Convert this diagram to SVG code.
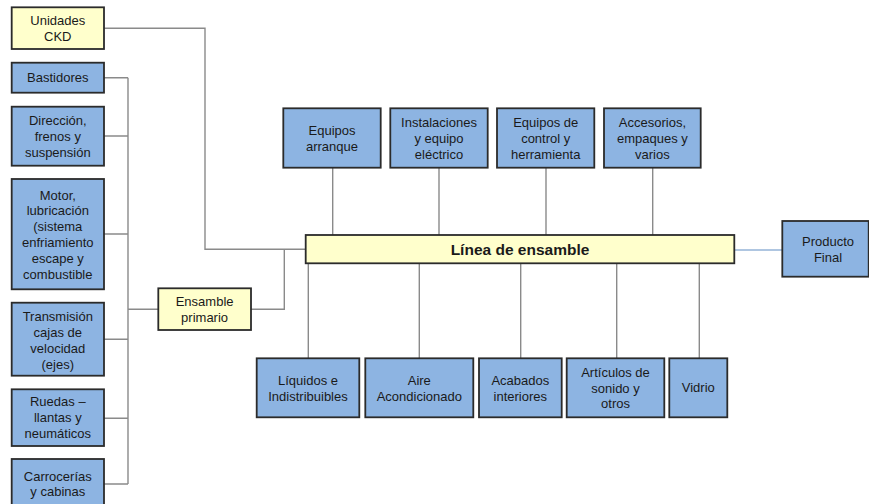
<svg xmlns="http://www.w3.org/2000/svg" width="869" height="504" viewBox="0 0 869 504">
<style>
.b{fill:#8DB4E2;stroke:#2b2b2b;stroke-width:1.8}
.y{fill:#FFFFCC;stroke:#2b2b2b;stroke-width:1.8}
text{font-family:"Liberation Sans",Arial,sans-serif;font-size:13px;fill:#1a1a1a;text-anchor:middle}
.t{font-size:15.5px;font-weight:bold}
.c{fill:none;stroke:#8a8a8a;stroke-width:1.4}
.cb{fill:none;stroke:#95B3D7;stroke-width:1.4}
</style>
<rect width="869" height="504" fill="#ffffff"/>
<g id="connectors">
<path class="c" d="M104,28.3H205V249.3H305.7"/>
<path class="c" d="M251,309.3H284.3V249.3"/>
<path class="c" d="M128,77.7V484M104,77.7H128M104,136H128M104,234H128M104,339.3H128M104,418.3H128M104,484H128M128,309.3H158.3"/>
<path class="c" d="M332.7,167.7V235M439,167.7V235M546,167.7V235M652.7,167.7V235"/>
<path class="c" d="M308.3,263.3V358.3M419.3,263.3V358.3M520.7,263.3V358.3M616.7,263.3V358.3M699.3,263.3V358.3"/>
<path class="cb" d="M734.3,250H782.3"/>
</g>
<g id="ckd"><rect class="y" x="11.7" y="7.3" width="92.3" height="41.7"/><text x="57.8" y="24.7">Unidades</text><text x="57.8" y="40.7">CKD</text></g>
<g id="bastidores"><rect class="b" x="11.7" y="62.7" width="92.3" height="30"/><text x="57.8" y="82.2">Bastidores</text></g>
<g id="direccion"><rect class="b" x="11.7" y="106.7" width="92.3" height="59"/><text x="57.8" y="124.5">Dirección,</text><text x="57.8" y="140.5">frenos y</text><text x="57.8" y="156.5">suspensión</text></g>
<g id="motor"><rect class="b" x="11.7" y="179" width="92.3" height="110.3"/><text x="57.8" y="199.5">Motor,</text><text x="57.8" y="215.3">lubricación</text><text x="57.8" y="231.1">(sistema</text><text x="57.8" y="246.9">enfriamiento</text><text x="57.8" y="262.7">escape y</text><text x="57.8" y="278.5">combustible</text></g>
<g id="transmision"><rect class="b" x="11.7" y="302.7" width="92.3" height="73"/><text x="57.8" y="320.5">Transmisión</text><text x="57.8" y="336.5">cajas de</text><text x="57.8" y="352.5">velocidad</text><text x="57.8" y="368.5">(ejes)</text></g>
<g id="ruedas"><rect class="b" x="11.7" y="389.3" width="92.3" height="56.7"/><text x="57.8" y="406.2">Ruedas –</text><text x="57.8" y="422.2">llantas y</text><text x="57.8" y="438">neumáticos</text></g>
<g id="carrocerias"><rect class="b" x="11.7" y="459" width="92.3" height="52"/><text x="57.8" y="480.5">Carrocerías</text><text x="57.8" y="496.3">y cabinas</text></g>
<g id="ensamble-primario"><rect class="y" x="158.3" y="288.3" width="92.7" height="41.7"/><text x="204.6" y="306.2">Ensamble</text><text x="204.6" y="321.8">primario</text></g>
<g id="linea"><rect class="y" x="305.7" y="235" width="428.6" height="28.3"/><text class="t" x="520" y="254.6">Línea de ensamble</text></g>
<g id="equipos-arranque"><rect class="b" x="283.3" y="108.3" width="97.4" height="59.4"/><text x="332" y="134.5">Equipos</text><text x="332" y="150.5">arranque</text></g>
<g id="instalaciones"><rect class="b" x="390.3" y="108.3" width="97.4" height="59.4"/><text x="439" y="127.2">Instalaciones</text><text x="439" y="143">y equipo</text><text x="439" y="158.6">eléctrico</text></g>
<g id="equipos-control"><rect class="b" x="497" y="108.3" width="97.3" height="59.4"/><text x="545.7" y="127.2">Equipos de</text><text x="545.7" y="143">control y</text><text x="545.7" y="158.6">herramienta</text></g>
<g id="accesorios"><rect class="b" x="604" y="108.3" width="96.7" height="59.4"/><text x="652.4" y="127.2">Accesorios,</text><text x="652.4" y="143">empaques y</text><text x="652.4" y="158.6">varios</text></g>
<g id="producto-final"><rect class="b" x="782.3" y="221" width="86.4" height="55.7"/><text x="828" y="246">Producto</text><text x="828" y="261.5">Final</text></g>
<g id="liquidos"><rect class="b" x="256.7" y="358.3" width="102.6" height="59"/><text x="308" y="384.5">Líquidos e</text><text x="308" y="400.5">Indistribuibles</text></g>
<g id="aire"><rect class="b" x="365.3" y="358.3" width="108" height="59"/><text x="419.3" y="384.5">Aire</text><text x="419.3" y="400.5">Acondicionado</text></g>
<g id="acabados"><rect class="b" x="479" y="358.3" width="82.7" height="59"/><text x="520.3" y="384.5">Acabados</text><text x="520.3" y="400.5">interiores</text></g>
<g id="articulos"><rect class="b" x="566.7" y="358.3" width="97.6" height="59"/><text x="615.5" y="377.2">Artículos de</text><text x="615.5" y="392.8">sonido y</text><text x="615.5" y="408.4">otros</text></g>
<g id="vidrio"><rect class="b" x="669.3" y="358.3" width="58" height="59"/><text x="698.3" y="392.3">Vidrio</text></g>
</svg>
